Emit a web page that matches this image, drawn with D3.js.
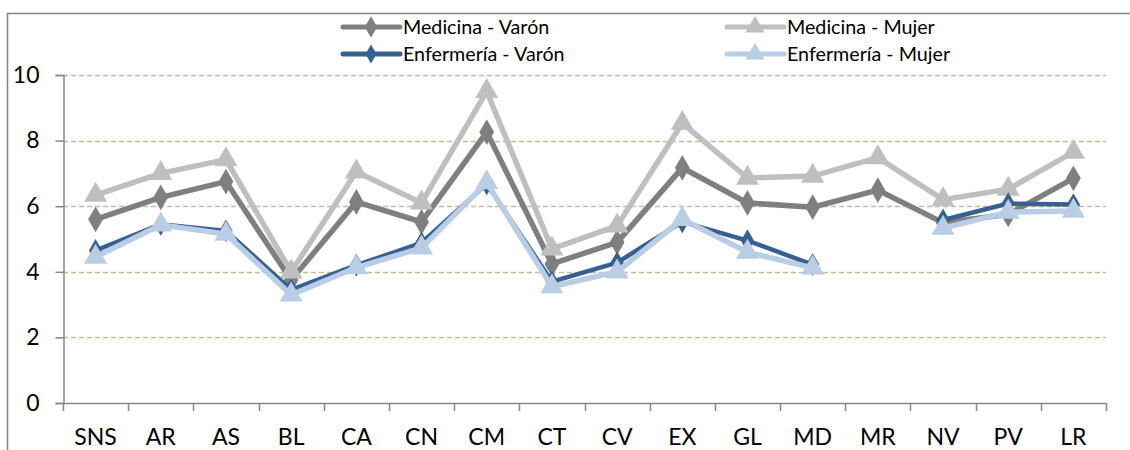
<!DOCTYPE html>
<meta charset="utf-8">
<title>Medicina y Enfermería por comunidad</title>
<style>
  body { margin: 0; background: #fff; }
  text { font-family: Lato, "Open Sans", sans-serif; fill: #000; }
</style>
<svg width="1130" height="450"></svg>
<script src="https://d3js.org/d3.v7.min.js"></script>
<script>

var categories = ["SNS", "AR", "AS", "BL", "CA", "CN", "CM", "CT", "CV", "EX", "GL", "MD", "MR", "NV", "PV", "LR"];

var medicinaVaron  = [5.6, 6.27, 6.75, 3.75, 6.13, 5.52, 8.26, 4.24, 4.9, 7.17, 6.1, 5.97, 6.49, 5.5, 5.75, 6.85];
var medicinaMujer  = [6.34, 7.0, 7.42, 4.0, 7.05, 6.1, 9.5, 4.7, 5.4, 8.53, 6.86, 6.92, 7.48, 6.2, 6.52, 7.65];
var enfermeriaVaron = [4.65, 5.45, 5.25, 3.45, 4.2, 4.88, 6.68, 3.7, 4.28, 5.52, 4.95, 4.22, null, 5.58, 6.08, 6.05];
var enfermeriaMujer = [4.45, 5.43, 5.15, 3.3, 4.13, 4.73, 6.72, 3.55, 4.0, 5.6, 4.6, 4.12, null, 5.33, 5.82, 5.85];

var yTicks = [0, 2, 4, 6, 8, 10];

var series = [
  { name: "Medicina - Varón",    values: medicinaVaron,   color: "#7f7f7f", width: 5.5, symbol: d3.symbolDiamond,  size: 190 },
  { name: "Medicina - Mujer",    values: medicinaMujer,   color: "#bfbfbf", width: 5.5, symbol: d3.symbolTriangle, size: 230 },
  { name: "Enfermería - Varón",  values: enfermeriaVaron, color: "#376092", width: 4.5, symbol: d3.symbolDiamond,  size: 150 },
  { name: "Enfermería - Mujer",  values: enfermeriaMujer, color: "#b9cde5", width: 5.5, symbol: d3.symbolTriangle, size: 230 }
];

var svg = d3.select("svg");

// outer frame (cut off on the right and bottom like the original)
svg.append("rect")
    .attr("x", 7.5).attr("y", 13.5)
    .attr("width", 1200).attr("height", 600)
    .attr("fill", "none")
    .attr("stroke", "#868686")
    .attr("stroke-width", 1.5);

var x = d3.scaleBand().domain(categories).range([63, 1106]);
var y = d3.scaleLinear().domain([0, 10]).range([403, 75]);

// grid lines
svg.append("g")
  .selectAll("line")
  .data(yTicks.filter(function(d) { return d > 0; }))
  .enter().append("line")
    .attr("x1", 63).attr("x2", 1106)
    .attr("y1", function(d) { return Math.round(y(d)) + 0.5; })
    .attr("y2", function(d) { return Math.round(y(d)) + 0.5; })
    .attr("stroke", "#c4bd97")
    .attr("stroke-width", 1.3)
    .attr("stroke-dasharray", "5,3");

// y axis
var yAxis = svg.append("g")
    .attr("transform", "translate(63.5,0)")
    .call(d3.axisLeft(y).tickValues(yTicks).tickSize(8).tickPadding(16).tickFormat(d3.format("d")));
yAxis.select(".domain").attr("stroke", "#868686").attr("stroke-width", 1.5);
yAxis.selectAll(".tick line").attr("stroke", "#868686").attr("stroke-width", 1.5);
yAxis.selectAll("text").attr("font-size", 23).attr("font-family", "Lato");

// x axis: line plus ticks on the category boundaries
var xAxis = svg.append("g");
xAxis.append("line")
    .attr("x1", 63).attr("x2", 1106)
    .attr("y1", 403.5).attr("y2", 403.5)
    .attr("stroke", "#868686").attr("stroke-width", 1.5);
xAxis.selectAll("line.tk")
  .data(categories.map(function(c) { return x(c); }).concat([x.range()[1]]))
  .enter().append("line")
    .attr("class", "tk")
    .attr("x1", function(d) { return Math.round(d) + 0.5; })
    .attr("x2", function(d) { return Math.round(d) + 0.5; })
    .attr("y1", 403).attr("y2", 411)
    .attr("stroke", "#868686").attr("stroke-width", 1.5);
xAxis.selectAll("text")
  .data(categories)
  .enter().append("text")
    .attr("x", function(d) { return x(d) + x.bandwidth() / 2; })
    .attr("y", 437)
    .attr("dy", "0.35em")
    .attr("text-anchor", "middle")
    .attr("font-size", 23)
    .text(function(d) { return d; });

var line = d3.line()
    .defined(function(d) { return d != null; })
    .x(function(d, i) { return x(categories[i]) + x.bandwidth() / 2; })
    .y(function(d) { return y(d); });

var plot = svg.append("g");
series.forEach(function(s) {
  var g = plot.append("g");
  g.append("path")
      .attr("d", line(s.values))
      .attr("fill", "none")
      .attr("stroke", s.color)
      .attr("stroke-width", s.width)
      .attr("stroke-linejoin", "miter");
  g.selectAll("path.m")
    .data(s.values.map(function(v, i) { return { v: v, c: categories[i] }; })
      .filter(function(d) { return d.v != null; }))
    .enter().append("path")
      .attr("class", "m")
      .attr("d", d3.symbol().type(s.symbol).size(s.size))
      .attr("transform", function(d) {
        return "translate(" + (x(d.c) + x.bandwidth() / 2) + "," + y(d.v) + ")";
      })
      .attr("fill", s.color);
});

// legend
var legendPos = [[343, 27], [727, 27], [343, 54], [727, 54]];
var legend = svg.append("g").selectAll("g")
  .data(series)
  .enter().append("g")
    .attr("transform", function(d, i) { return "translate(" + legendPos[i][0] + "," + legendPos[i][1] + ")"; });
legend.append("line")
    .attr("x1", 0).attr("x2", 57)
    .attr("stroke", function(d) { return d.color; })
    .attr("stroke-width", 5)
    .attr("stroke-linecap", "round");
legend.append("path")
    .attr("transform", "translate(28,0)")
    .attr("d", function(d) { return d3.symbol().type(d.symbol).size(d.size * 0.7)(); })
    .attr("fill", function(d) { return d.color; });
legend.append("text")
    .attr("x", 60)
    .attr("dy", "0.35em")
    .attr("font-size", 19.7)
    .text(function(d) { return d.name; });

</script>
